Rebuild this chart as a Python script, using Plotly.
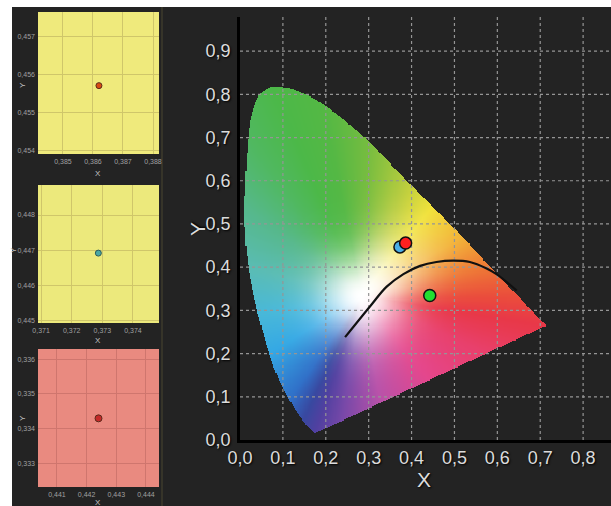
import numpy as np
import plotly.graph_objects as go

# ---------------- data ----------------
# border of the colour diagram as drawn (spectral locus, bottom tip -> left -> top -> red tip)
locus_x = [0.175, 0.148, 0.117, 0.086, 0.062, 0.039, 0.023, 0.014, 0.012, 0.014, 0.016, 0.020,
           0.026, 0.039, 0.055, 0.078, 0.105, 0.132, 0.194, 0.295, 0.389, 0.498, 0.607, 0.715]
locus_y = [0.016, 0.046, 0.093, 0.154, 0.224, 0.309, 0.386, 0.463, 0.540, 0.600, 0.641, 0.700,
           0.745, 0.787, 0.808, 0.819, 0.817, 0.810, 0.779, 0.698, 0.602, 0.494, 0.378, 0.266]

# colours read along the border of the diagram, and how far the pale centre reaches towards each
edge_key_x = [0.175, 0.148, 0.117, 0.070, 0.045, 0.023, 0.012, 0.020, 0.078, 0.194,
              0.295, 0.389, 0.450, 0.520, 0.580, 0.650, 0.715, 0.600, 0.450, 0.330, 0.240]
edge_key_y = [0.016, 0.046, 0.093, 0.200, 0.295, 0.400, 0.540, 0.700, 0.819, 0.779,
              0.698, 0.602, 0.542, 0.471, 0.406, 0.331, 0.266, 0.190, 0.130, 0.082, 0.046]
edge_key_color = ['#5040a0', '#3848a0', '#3070c8', '#34a8e4', '#48b8d8', '#5abcb4', '#56b88c',
                  '#50b860', '#4cb848', '#54b844', '#74bc40', '#b8cc3c', '#f0e030', '#f2b030',
                  '#ee7a34', '#ea4c3c', '#e83848', '#e8406c', '#e4468c', '#b850a8', '#7848a8']
edge_key_spread = [0.10, 0.10, 0.10, 0.10, 0.10, 0.10, 0.10, 0.10, 0.10, 0.10,
                   0.11, 0.13, 0.15, 0.15, 0.13, 0.11, 0.10, 0.10, 0.10, 0.11, 0.11]
white_point = [0.285, 0.335]

# black locus curve
planck_x = [0.245, 0.303, 0.342, 0.381, 0.420, 0.458, 0.497, 0.536, 0.575, 0.598, 0.645]
planck_y = [0.238, 0.309, 0.355, 0.384, 0.403, 0.412, 0.415, 0.412, 0.397, 0.384, 0.346]

# measured samples
sample_x = [0.3862, 0.37287, 0.4424]
sample_y = [0.45571, 0.44692, 0.33429]
sample_main_colors = ['#ff2020', '#4aaee6', '#20e030']
sample_inset_colors = ['#d84a14', '#4aa8a4', '#c42a2a']
sample_inset_bg = ['#efea7c', '#ece97c', '#e98a80']
sample_inset_grid = ['#cfc66a', '#cfc66a', '#cf766e']

main_x_ticks = [0.0, 0.1, 0.2, 0.3, 0.4, 0.5, 0.6, 0.7, 0.8]
main_y_ticks = [0.0, 0.1, 0.2, 0.3, 0.4, 0.5, 0.6, 0.7, 0.8, 0.9]
inset_x_ticks = [[0.385, 0.386, 0.387, 0.388], [0.371, 0.372, 0.373, 0.374], [0.441, 0.442, 0.443, 0.444]]
inset_y_ticks = [[0.454, 0.455, 0.456, 0.457], [0.445, 0.446, 0.447, 0.448], [0.333, 0.334, 0.335, 0.336]]
inset_x_ranges = [[0.38417, 0.3882], [0.3709, 0.37485], [0.44036, 0.44444]]
inset_y_ranges = [[0.4539, 0.45766], [0.44494, 0.44885], [0.33231, 0.33629]]

# ---------------- colour image of the diagram ----------------
W, H = 611, 506


def catmull_rom(px, py, per_seg=12):
    P = np.column_stack([px, py]).astype(float)
    P = np.vstack([P[0], P, P[-1]])
    out = []
    for i in range(1, len(P) - 2):
        p0, p1, p2, p3 = P[i - 1], P[i], P[i + 1], P[i + 2]
        for s in np.linspace(0, 1, per_seg, endpoint=False):
            s2, s3 = s * s, s * s * s
            out.append(0.5 * ((2 * p1) + (-p0 + p2) * s + (2 * p0 - 5 * p1 + 4 * p2 - p3) * s2
                              + (-p0 + 3 * p1 - 3 * p2 + p3) * s3))
    out.append(P[-2])
    return np.array(out)


curve = catmull_rom(locus_x, locus_y)
poly = np.vstack([curve, curve[:1]])

step = 0.0025
gx = np.arange(0.0, 0.7425, step)
gy = np.arange(0.0, 0.8425, step)
X, Y = np.meshgrid(gx, gy)

vx, vy = poly[:, 0], poly[:, 1]
inside = np.zeros(X.shape, dtype=bool)
n = len(vx) - 1
j = n - 1
for i in range(n):
    xi, yi, xj, yj = vx[i], vy[i], vx[j], vy[j]
    cond = ((yi > Y) != (yj > Y))
    denom = (yj - yi) if (yj - yi) != 0 else 1e-12
    xint = (xj - xi) * (Y - yi) / denom + xi
    inside ^= cond & (X < xint)
    j = i

wx, wy = white_point
th = np.arctan2(Y - wy, X - wx)
dist = np.hypot(X - wx, Y - wy)

kth = np.arctan2(np.array(edge_key_y) - wy, np.array(edge_key_x) - wx)
kc = np.array([[int(c[k:k + 2], 16) for k in (1, 3, 5)] for c in edge_key_color], dtype=float)
ks = np.array(edge_key_spread)
ko = np.argsort(kth)
kth, kc, ks = kth[ko], kc[ko], ks[ko]
edge_rgb = np.stack([np.interp(th, kth, kc[:, c], period=2 * np.pi) for c in range(3)], axis=-1)
sigma = np.interp(th, kth, ks, period=2 * np.pi)

wgt = np.exp(-(dist / sigma) ** 2)[..., None]
rgb = edge_rgb * (1 - wgt) + 255.0 * wgt
rgb = np.clip(np.round(rgb), 0, 255).astype(int)
alpha = inside.astype(int)[..., None]
img = np.concatenate([rgb * alpha, alpha], axis=-1)

fig = go.Figure()
fig.add_trace(go.Image(z=img.tolist(), colormodel='rgba', x0=float(gx[0]), dx=step,
                       y0=float(gy[0]), dy=step, xaxis='x', yaxis='y', hoverinfo='skip'))

# grid drawn over the colours
x_rng = [0.0, 0.865]
y_rng = [0.0, 0.979]
gxs, gys = [], []
for v in main_x_ticks[1:]:
    gxs += [v, v, None]; gys += [y_rng[0], y_rng[1], None]
for v in main_y_ticks[1:]:
    gxs += [x_rng[0], x_rng[1], None]; gys += [v, v, None]
fig.add_trace(go.Scatter(x=gxs, y=gys, mode='lines', line=dict(color='#959595', width=1.2, dash='dot'),
                         hoverinfo='skip', xaxis='x', yaxis='y'))

fig.add_trace(go.Scatter(x=planck_x, y=planck_y, mode='lines', line=dict(color='#111111', width=2.2, shape='spline'),
                         hoverinfo='skip', xaxis='x', yaxis='y'))

order = [1, 0, 2]
fig.add_trace(go.Scatter(x=[sample_x[k] for k in order], y=[sample_y[k] for k in order], mode='markers',
                         marker=dict(size=12, color=[sample_main_colors[k] for k in order],
                                     line=dict(color='#111111', width=1.5)),
                         xaxis='x', yaxis='y'))

# insets
inset_px_y = [(12, 154), (185, 323), (349, 487)]
inset_px_x = (38, 159)
inset_xtitle_y = [173, 340, 502]
inset_ytitle = [(22, 85), (13, 250), (22, 418)]
shapes = []
annotations = []
for k in range(3):
    ax = k + 2
    fig.add_trace(go.Scatter(x=[sample_x[k]], y=[sample_y[k]], mode='markers',
                             marker=dict(size=6 if k < 2 else 7, color=sample_inset_colors[k],
                                         line=dict(color='#5a2a1a' if k != 1 else '#2a5a5a', width=1)),
                             xaxis='x%d' % ax, yaxis='y%d' % ax))
    top, bot = inset_px_y[k]
    fig.layout['xaxis%d' % ax] = dict(domain=[inset_px_x[0] / W, inset_px_x[1] / W], anchor='y%d' % ax,
                                      range=inset_x_ranges[k], tickvals=inset_x_ticks[k], tickformat='.3f',
                                      showgrid=True, gridcolor=sample_inset_grid[k], gridwidth=1,
                                      zeroline=False, showline=False, ticks='', automargin=False,
                                      tickfont=dict(size=7, color='#a0a0a0', family='Arial'), ticklabelstandoff=2)
    fig.layout['yaxis%d' % ax] = dict(domain=[(H - bot) / H, (H - top) / H], anchor='x%d' % ax,
                                      range=inset_y_ranges[k], tickvals=inset_y_ticks[k], tickformat='.3f',
                                      showgrid=True, gridcolor=sample_inset_grid[k], gridwidth=1,
                                      zeroline=False, showline=False, ticks='', automargin=False,
                                      tickfont=dict(size=7, color='#a0a0a0', family='Arial'), ticklabelstandoff=2)
    shapes.append(dict(type='rect', xref='x%d domain' % ax, yref='y%d domain' % ax, x0=0, x1=1, y0=0, y1=1,
                       fillcolor=sample_inset_bg[k], line=dict(width=0), layer='below'))
    annotations.append(dict(text='X', xref='paper', yref='paper', x=98 / W, y=1 - inset_xtitle_y[k] / H,
                            xanchor='center', yanchor='middle',
                            showarrow=False, font=dict(size=8, color='#c0c0c0', family='Arial')))
    annotations.append(dict(text='Y', xref='paper', yref='paper', x=inset_ytitle[k][0] / W,
                            y=1 - inset_ytitle[k][1] / H, xanchor='center', yanchor='middle',
                            textangle=-90, showarrow=False, font=dict(size=8, color='#c0c0c0', family='Arial')))

# white margins and separator
shapes.append(dict(type='rect', xref='paper', yref='paper', x0=0, x1=12 / W, y0=0, y1=1,
                   fillcolor='white', line=dict(width=0), layer='below'))
shapes.append(dict(type='rect', xref='paper', yref='paper', x0=0, x1=1, y0=1 - 7 / H, y1=1,
                   fillcolor='white', line=dict(width=0), layer='below'))
shapes.append(dict(type='line', xref='paper', yref='paper', x0=162 / W, x1=162 / W, y0=0, y1=1 - 7 / H,
                   line=dict(color='#4a4630', width=1), layer='below'))

annotations.append(dict(text='X', xref='paper', yref='paper', x=424 / W, y=1 - 479 / H, showarrow=False,
                        xanchor='center', yanchor='middle',
                        font=dict(size=21, color='#dcdcdc', family='Arial', shadow='1px 1px 2px #000')))
annotations.append(dict(text='Y', xref='paper', yref='paper', x=197 / W, y=1 - 229 / H, showarrow=False,
                        xanchor='center', yanchor='middle', textangle=-90,
                        font=dict(size=21, color='#dcdcdc', family='Arial', shadow='1px 1px 2px #000')))

tf = dict(size=18, color='#dcdcdc', family='Arial', shadow='1px 1px 2px #000')
fig.update_layout(
    width=W, height=H, margin=dict(l=0, r=0, t=0, b=0, autoexpand=False),
    paper_bgcolor='#232323', plot_bgcolor='#232323',
    separators=', ', showlegend=False,
    xaxis=dict(domain=[240 / W, 1.0], range=x_rng, tickvals=main_x_ticks, tickformat='.1f',
               showgrid=False, zeroline=False, showline=True, linecolor='#000000', linewidth=2.5,
               ticks='', tickfont=tf, ticklabelstandoff=0, anchor='y', automargin=False),
    yaxis=dict(domain=[66 / H, 489 / H], range=y_rng, tickvals=main_y_ticks, tickformat='.1f',
               showgrid=False, zeroline=False, showline=True, linecolor='#000000', linewidth=2.5,
               ticks='', tickfont=tf, ticklabelstandoff=3, anchor='x', scaleanchor=False, autorange=False,
               automargin=False),
    shapes=shapes, annotations=annotations,
)

fig.write_html('out.html', config={'displayModeBar': False},
               post_script="document.body.style.margin='0';document.body.style.overflow='hidden';")
